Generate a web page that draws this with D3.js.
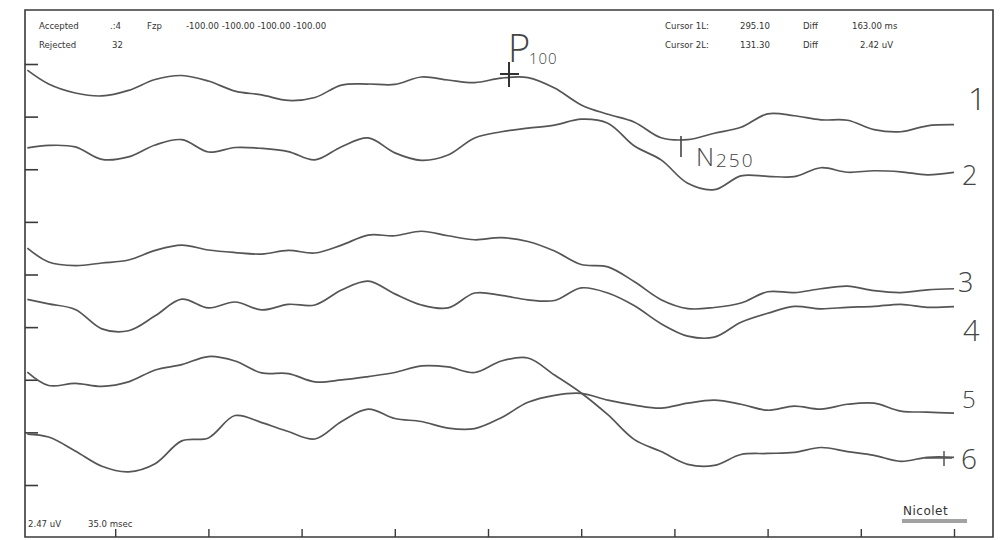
<!DOCTYPE html>
<html>
<head>
<meta charset="utf-8">
<script src="https://cdn.jsdelivr.net/npm/d3@7"></script>
<style>
body { margin: 0; background: #fff; }
</style>
</head>
<body>
<div id="evoked"></div>
<script>
// sample times (ms) and the 6 averaged channels, amplitudes in uV around each channel baseline
var times = [2,10,20,30,40,50,60,70,80,90,100,110,120,130,140,150,160,170,180,190,200,210,220,230,240,250,260,270,280,290,300,310,320,330,340,350];
var channels = ["1","2","3","4","5","6"];
var offsets = [18.26, 15.26, 10.33, 8.22, 4.93, 2.58];

var ch1 = [1.21,0.56,0.14,0.00,0.26,0.77,0.96,0.70,0.23,0.05,-0.21,-0.07,0.51,0.56,0.54,0.89,0.75,0.63,0.84,0.86,0.37,-0.42,-0.86,-1.23,-1.96,-2.05,-1.75,-1.47,-0.84,-0.93,-1.12,-1.14,-1.58,-1.68,-1.40,-1.35];
var ch2 = [0.56,0.68,0.61,0.02,0.14,0.70,0.95,0.37,0.58,0.54,0.39,0.00,0.62,1.03,0.33,-0.02,0.23,1.03,1.32,1.49,1.63,1.91,1.72,0.65,0.00,-1.10,-1.40,-0.75,-0.77,-0.79,-0.37,-0.58,-0.51,-0.56,-0.70,-0.59];
var ch3 = [0.79,0.14,-0.03,0.09,0.23,0.68,0.93,0.70,0.58,0.51,0.68,0.56,0.93,1.40,1.37,1.58,1.37,1.18,1.28,1.10,0.65,0.02,-0.09,-0.79,-1.63,-2.05,-2.00,-1.79,-1.26,-1.30,-1.12,-1.00,-1.21,-1.30,-1.17,-1.12];
var ch4 = [0.49,0.28,0.02,-0.89,-0.98,-0.28,0.50,0.09,0.37,0.00,0.26,0.23,0.93,1.35,0.75,0.23,0.09,0.79,0.68,0.47,0.44,1.03,0.79,0.19,-0.65,-1.23,-1.28,-0.58,-0.16,0.16,0.05,0.12,0.16,0.26,0.12,0.15];
var ch5 = [0.37,-0.26,-0.16,-0.30,-0.09,0.47,0.72,1.10,0.89,0.33,0.30,-0.09,0.00,0.16,0.35,0.66,0.61,0.35,0.89,1.03,0.23,-0.61,-1.63,-2.80,-3.36,-3.96,-4.01,-3.50,-3.45,-3.40,-3.17,-3.36,-3.54,-3.82,-3.63,-3.63];
var ch6 = [-0.19,-0.33,-0.98,-1.70,-1.96,-1.58,-0.51,-0.37,0.68,0.35,-0.07,-0.42,0.40,0.98,0.54,0.40,0.09,0.07,0.58,1.30,1.63,1.72,1.40,1.17,1.03,1.26,1.40,1.21,0.93,1.12,0.98,1.21,1.26,0.89,0.84,0.79];
var traces = [ch1, ch2, ch3, ch4, ch5, ch6];

var uvPerDiv = 2.47;
var msPerDiv = 35;
var divTicks = [0,1,2,3,4,5,6,7,8];
var timeTicks = [35,70,105,140,175,210,245,280,315,350];

var headerLeft = [
	["Accepted", 39, 29], [".:4", 110, 29], ["Fzp", 147, 29],
	["-100.00 -100.00 -100.00 -100.00", 186, 29],
	["Rejected", 39, 48], ["32", 112, 48]
];
var headerRight = [
	["Cursor 1L:", 665, 29], ["295.10", 740, 29], ["Diff", 803, 29], ["163.00 ms", 852, 29],
	["Cursor 2L:", 665, 48], ["131.30", 740, 48], ["Diff", 803, 48], ["2.42 uV", 860, 48]
];

var W = 1000, H = 540;
var svg = d3.select("#evoked").append("svg")
	.attr("width", W)
	.attr("height", H)
	.style("font-family", "'DejaVu Sans Condensed', 'Liberation Sans Narrow', sans-serif");

var x = d3.scaleLinear().domain([0, 10 * msPerDiv]).range([22, 954]);
var y = d3.scaleLinear().domain([0, 8 * uvPerDiv]).range([485, 64]);

//frame
svg.append("path")
	.attr("d", "M25,10H993V537H25Z")
	.attr("fill", "none")
	.attr("stroke", "#3a3a3a")
	.attr("stroke-width", 1.6);

//amplitude divisions on the left
var ya = svg.append("g").attr("transform", "translate(25,0)")
	.call(d3.axisLeft(y).tickValues(divTicks.map(function(k){ return k * uvPerDiv; })).tickSize(-13).tickFormat(""));
ya.select(".domain").remove();
ya.selectAll("line").attr("stroke", "#3a3a3a").attr("stroke-width", 1.6);

//time divisions at the bottom
var xa = svg.append("g").attr("transform", "translate(0,537)")
	.call(d3.axisBottom(x).tickValues(timeTicks).tickSize(-8).tickFormat(""));
xa.select(".domain").remove();
xa.selectAll("line").attr("stroke", "#3a3a3a").attr("stroke-width", 1.4);

//traces
traces.forEach(function(tr, c){
	var line = d3.line()
		.x(function(d, i){ return x(times[i]); })
		.y(function(d){ return y(offsets[c] + d); })
		.curve(d3.curveCatmullRom.alpha(0.5));
	svg.append("path")
		.datum(tr)
		.attr("class", "trace ch" + channels[c])
		.attr("d", line)
		.attr("fill", "none")
		.attr("stroke", "#555")
		.attr("stroke-width", 1.7)
		.attr("stroke-linejoin", "round");
});

//printed header
svg.selectAll("text.hdr")
	.data(headerLeft.concat(headerRight))
	.enter().append("text")
	.attr("class", "hdr")
	.attr("x", function(d){ return d[1]; })
	.attr("y", function(d){ return d[2]; })
	.style("font-size", "9.5px")
	.style("fill", "#333")
	.text(function(d){ return d[0]; });

svg.append("text").attr("x", 28).attr("y", 527)
	.style("font-size", "9.5px").style("fill", "#333")
	.text(uvPerDiv.toFixed(2) + " uV");
svg.append("text").attr("x", 88).attr("y", 527)
	.style("font-size", "9.5px").style("fill", "#333")
	.text(msPerDiv.toFixed(1) + " msec");

svg.append("text").attr("x", 903).attr("y", 515)
	.style("font-family", "'DejaVu Sans', sans-serif")
	.style("font-size", "12px").style("fill", "#333").style("letter-spacing", "0.5px")
	.text("Nicolet");
svg.append("path").attr("d", "M902,520H967M902,522H967")
	.attr("stroke", "#444").attr("stroke-width", 1);

//hand-written annotations
var hand = svg.append("g")
	.style("font-family", "'Open Sans', 'DejaVu Sans', sans-serif")
	.style("font-weight", 300)
	.style("fill", "#444");

var chanLabels = [["1", 968, 110, 32], ["2", 962, 185, 27], ["3", 958, 292, 27], ["4", 963, 341, 29], ["5", 962, 408, 24], ["6", 961, 469, 28]];
hand.selectAll("text.chan")
	.data(chanLabels)
	.enter().append("text")
	.attr("class", "chan")
	.attr("x", function(d){ return d[1]; })
	.attr("y", function(d){ return d[2]; })
	.style("font-size", function(d){ return d[3] + "px"; })
	.text(function(d){ return d[0]; });

hand.append("text").attr("x", 508).attr("y", 62).style("font-size", "38px").text("P");
hand.append("text").attr("x", 529).attr("y", 64).style("font-size", "15px").style("letter-spacing", "1px").text("100");
hand.append("text").attr("x", 696).attr("y", 166).style("font-size", "25px").text("N");
hand.append("text").attr("x", 716).attr("y", 167).style("font-size", "19px").style("letter-spacing", "2px").text("250");

//cursor marks
svg.append("path").attr("d", "M509,62V87M500,74H519")
	.attr("stroke", "#333").attr("stroke-width", 2);
svg.append("path").attr("d", "M681,136V157")
	.attr("stroke", "#444").attr("stroke-width", 1.6);
svg.append("path").attr("d", "M925,458H952M944,451V466")
	.attr("stroke", "#555").attr("stroke-width", 1.5);
</script>
</body>
</html>
